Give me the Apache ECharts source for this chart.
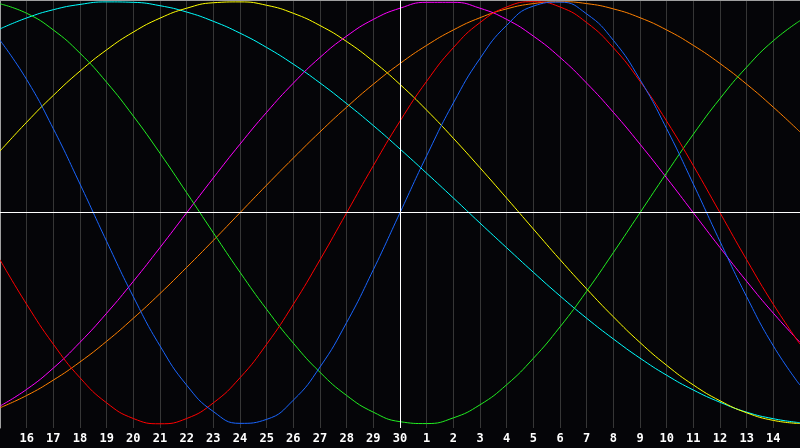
<!DOCTYPE html>
<html>
<head>
<meta charset="utf-8">
<script src="https://cdn.jsdelivr.net/npm/echarts@6/dist/echarts.min.js"></script>
<style>
html,body{margin:0;padding:0;background:#050508;}
#chart{width:800px;height:448px;}
</style>
</head>
<body>
<div id="chart"></div>
<script>
var dayLabels = ['15','16','17','18','19','20','21','22','23','24','25','26','27','28','29','30','1','2','3','4','5','6','7','8','9','10','11','12','13','14','15'];
var todayIndex = 15;

var physical = [0.817,0.631,0.398,0.136,-0.136,-0.398,-0.631,-0.817,-0.942,-0.998,-0.979,-0.888,-0.731,-0.520,-0.270,0,0.270,0.520,0.731,0.888,0.979,0.998,0.942,0.817,0.631,0.398,0.136,-0.136,-0.398,-0.631,-0.817];
var emotional = [-0.223,-0.434,-0.623,-0.782,-0.901,-0.975,-1.0,-0.975,-0.901,-0.782,-0.623,-0.434,-0.223,0,0.223,0.434,0.623,0.782,0.901,0.975,1.0,0.975,0.901,0.782,0.623,0.434,0.223,0,-0.223,-0.434,-0.623];
var intellectual = [0.990,0.945,0.866,0.756,0.618,0.458,0.282,0.095,-0.095,-0.282,-0.458,-0.618,-0.756,-0.866,-0.945,-0.990,-0.999,-0.972,-0.910,-0.815,-0.690,-0.541,-0.372,-0.189,0,0.189,0.372,0.541,0.690,0.815,0.910];
var intuitive = [-0.916,-0.837,-0.736,-0.614,-0.476,-0.325,-0.165,0,0.165,0.325,0.476,0.614,0.736,0.837,0.916,0.969,0.997,0.997,0.969,0.916,0.837,0.736,0.614,0.476,0.325,0.165,0,-0.165,-0.325,-0.476,-0.614];
var aesthetic = [0.292,0.429,0.556,0.671,0.772,0.856,0.922,0.969,0.995,0.999,0.983,0.945,0.887,0.811,0.717,0.608,0.486,0.353,0.213,0.069,-0.077,-0.222,-0.361,-0.493,-0.615,-0.723,-0.816,-0.891,-0.948,-0.984,-0.999];
var awareness = [-0.924,-0.866,-0.793,-0.707,-0.609,-0.5,-0.383,-0.259,-0.131,0,0.131,0.259,0.383,0.5,0.609,0.707,0.793,0.866,0.924,0.966,0.991,1,0.991,0.966,0.924,0.866,0.793,0.707,0.609,0.5,0.383];
var spiritual = [0.871,0.923,0.962,0.987,0.999,0.997,0.981,0.951,0.907,0.851,0.783,0.704,0.615,0.517,0.413,0.302,0.187,0.070,-0.049,-0.166,-0.282,-0.394,-0.500,-0.598,-0.689,-0.770,-0.840,-0.898,-0.945,-0.976,-0.995];

var seriesDefs = [
  {name:'Spiritual', data: spiritual, color:'#00ffff'},
  {name:'Aesthetic', data: aesthetic, color:'#ffff00'},
  {name:'Awareness', data: awareness, color:'#ff8000'},
  {name:'Intuitive', data: intuitive, color:'#ff00ff'},
  {name:'Intellectual', data: intellectual, color:'#22ee22'},
  {name:'Emotional', data: emotional, color:'#ff0000'},
  {name:'Physical', data: physical, color:'#1a66ff'}
];

var series = seriesDefs.map(function(s){
  return {
    name: s.name, type:'line', data: s.data, smooth: 0.5,
    symbol:'none', lineStyle:{color:s.color, width:1}, itemStyle:{color:s.color},
    z: 3
  };
});
series.unshift({
  type:'line', data: [], silent:true, z: 2,
  markLine:{
    silent:true, symbol:'none', label:{show:false},
    lineStyle:{color:'#ffffff', type:'solid', width:1},
    data:[{xAxis: todayIndex}, {yAxis: 0}]
  }
});

var chart = echarts.init(document.getElementById('chart'));
chart.setOption({
  backgroundColor:'#050508',
  animation:false,
  grid:{left:0, right:0, top:0, bottom:20},
  xAxis:[{
    type:'category', data: dayLabels, boundaryGap:false,
    axisLine:{show:true, lineStyle:{color:'#a0a0a0', width:1}},
    axisTick:{show:false},
    axisLabel:{
      color:'#ffffff', fontFamily:'DejaVu Sans Mono', fontWeight:'bold', fontSize:12, margin:5,
      interval:function(i){ return i>0 && i<dayLabels.length-1; }
    },
    splitLine:{show:true, interval:0, lineStyle:{color:'#363636', width:1}}
  },{
    type:'value', position:'top', min:0, max:1,
    axisLine:{show:true, lineStyle:{color:'#a0a0a0', width:1}},
    axisTick:{show:false}, axisLabel:{show:false}, splitLine:{show:false}
  }],
  yAxis:{
    type:'value', min:-1.02, max:1.008,
    axisLine:{show:true, lineStyle:{color:'#a0a0a0', width:1}},
    axisTick:{show:false}, axisLabel:{show:false}, splitLine:{show:false}
  },
  series: series
});
</script>
</body>
</html>
